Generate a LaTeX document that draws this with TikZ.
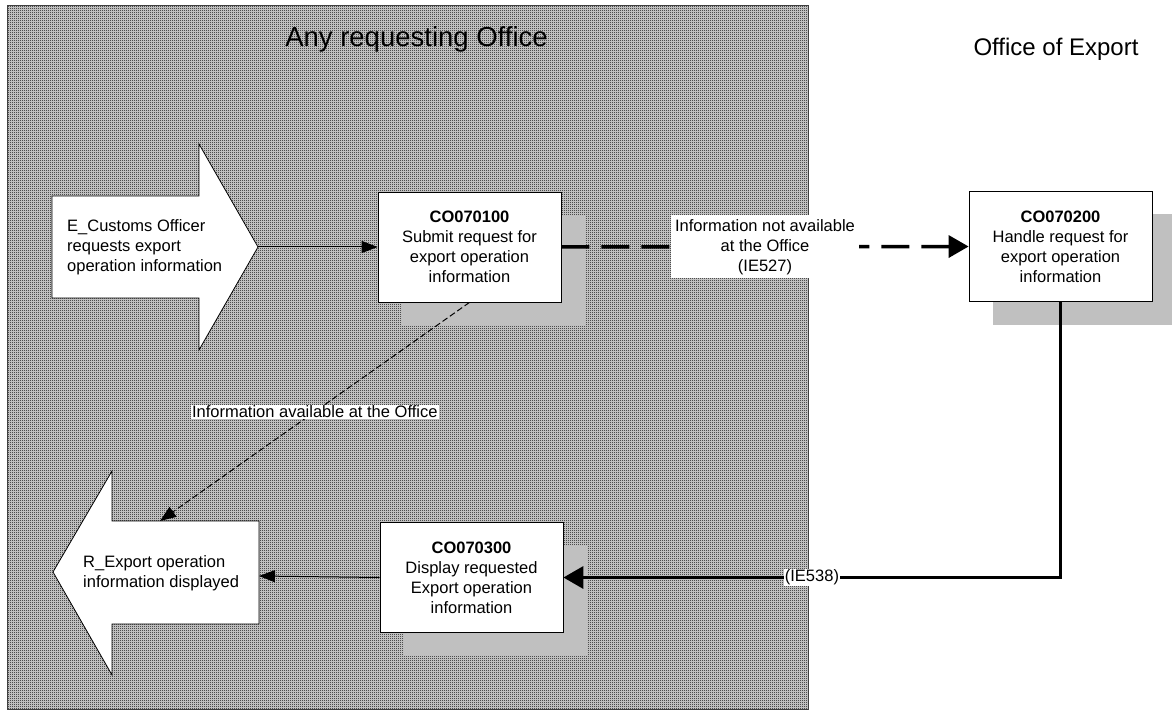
\documentclass[tikz,border=0pt]{standalone}
\usepackage{fontspec}
\setmainfont{Liberation Sans}
\usetikzlibrary{arrows.meta,patterns,shadows}
\pgfdeclarepatternformonly{halftone}{\pgfqpoint{0pt}{0pt}}{\pgfqpoint{2pt}{2pt}}{\pgfqpoint{2pt}{2pt}}{%
  \pgfpathrectangle{\pgfqpoint{0pt}{0pt}}{\pgfqpoint{1pt}{1pt}}%
  \pgfpathrectangle{\pgfqpoint{1pt}{1pt}}{\pgfqpoint{1pt}{1pt}}%
  \pgfusepath{fill}}
\definecolor{shade}{HTML}{C0C0C0}
\begin{document}
\begin{tikzpicture}[x=1pt,y=-1pt,
  txt/.style={font=\fontsize{16.5}{20}\selectfont},
  procbox/.style={txt, draw=black, line width=0.8pt, fill=white,
    minimum width=183pt, minimum height=110pt, align=center, inner sep=0pt,
    drop shadow={shadow xshift=24pt, shadow yshift=-23pt, opacity=1, fill=shade}},
  bigarrow/.style={draw=black, line width=0.8pt, fill=white},
  thinflow/.style={line width=1pt, -{Triangle[length=16pt,width=12pt]}},
  thinflowdash/.style={thinflow, dash pattern=on 6pt off 3pt},
  thickflow/.style={line width=3.5pt, -{Triangle[length=20pt,width=22pt]}},
  thickflowdash/.style={thickflow, dash pattern=on 28pt off 12pt},
  flowlabel/.style={txt, fill=white, inner sep=1pt, align=center}
]
\useasboundingbox (0,0) rectangle (1172,711);
\fill[white] (0,0) rectangle (1172,711);
% requesting office area
\fill[black!14] (7,6) rectangle (808,709);
\fill[pattern=halftone, pattern color=black] (7,6) rectangle (808,709);
\draw[line width=1pt, black!75] (7,6) rectangle (808,709);
\node[font=\fontsize{27.5}{32}\selectfont, anchor=base] (tReq) at (416.5,47) {Any requesting Office};
\node[font=\fontsize{24}{28}\selectfont, anchor=base] (tExp) at (1056,56) {Office of Export};

% input event arrow
\draw[bigarrow] (52,196) -- (199,196) -- (199,144) -- (258,247) -- (199,350) -- (199,298) -- (52,298) -- cycle;
\coordinate (inTip) at (258,247);
\node[txt, anchor=west, align=left, inner sep=0pt] (inEvt) at (67,247) {E\_Customs Officer\\requests export\\operation information};

% output event arrow
\draw[bigarrow] (259,521) -- (112,521) -- (112,471) -- (53,572) -- (112,675) -- (112,624) -- (259,624) -- cycle;
\coordinate (outTop) at (160,521);
\coordinate (outRight) at (259,576);
\node[txt, anchor=west, align=left, inner sep=0pt] (outEvt) at (83,573) {R\_Export operation\\information displayed};

% process boxes
\node[procbox] (b1) at (469.5,247) {\textbf{CO070100}\\Submit request for\\export operation\\information};
\node[procbox] (b2) at (1060.5,246.5) {\textbf{CO070200}\\Handle request for\\export operation\\information};
\node[procbox] (b3) at (471.5,577.5) {\textbf{CO070300}\\Display requested\\Export operation\\information};

% connectors
\draw[thinflow] (inTip) -- (b1.west |- inTip);
\draw[thickflowdash] (b1.east) -- node[flowlabel, inner sep=4pt] (l527) {Information not available\\at the Office\\(IE527)} (b2.west);
\draw[thinflowdash] (b1.south) -- node[flowlabel] (lavail) {Information available at the Office} (outTop);
\draw[thickflow] (b2.south) |- node[flowlabel, pos=0.75] (l538) {(IE538)} (b3.east);
\draw[thinflow] (b3.west) -- (outRight);
\end{tikzpicture}
\end{document}
